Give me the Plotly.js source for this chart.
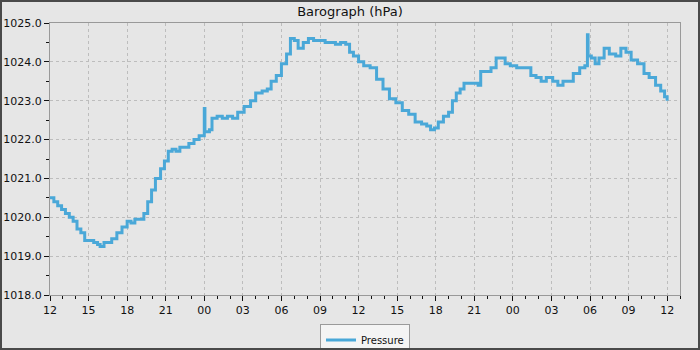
<!DOCTYPE html>
<html>
<head>
<meta charset="utf-8">
<script src="https://cdn.plot.ly/plotly-3.0.1.min.js"></script>
<style>
html,body{margin:0;padding:0;background:#e6e6e6;}
#chart{width:696px;height:346px;border:2px solid #4a4a4a;}
</style>
</head>
<body>
<div id="chart"></div>
<script>
// hours since 12:00 on day 1
const hours = [0.0,0.3,0.6,0.9,1.2,1.5,1.8,2.1,2.4,2.7,3.0,3.4,3.7,3.9,4.2,4.5,4.8,5.2,5.6,6.0,6.3,6.6,7.0,7.3,7.6,7.9,8.2,8.6,8.9,9.2,9.5,9.8,10.1,10.4,10.8,11.2,11.6,11.9,12.0,12.05,12.4,12.6,13.0,13.4,13.8,14.2,14.6,15.1,15.6,16.0,16.5,16.9,17.2,17.6,18.0,18.4,18.7,19.0,19.3,19.7,20.1,20.5,21.0,21.4,21.8,22.2,22.6,23.0,23.3,23.6,24.0,24.4,24.9,25.4,25.9,26.4,26.9,27.4,27.9,28.4,28.9,29.3,29.6,29.9,30.2,30.6,31.0,31.3,31.6,31.9,32.2,32.6,33.0,33.3,33.5,33.9,34.3,34.7,35.1,35.4,35.8,36.3,36.8,37.2,37.4,37.8,38.2,38.6,39.1,39.5,39.9,40.3,40.7,41.2,41.6,41.8,41.85,42.1,42.4,42.7,43.1,43.5,44.0,44.4,44.8,45.2,45.7,46.2,46.6,47.1,47.5,47.8,48.0];
const pressure = [1020.5,1020.4,1020.3,1020.2,1020.1,1020.0,1019.9,1019.7,1019.6,1019.4,1019.4,1019.35,1019.3,1019.25,1019.35,1019.35,1019.45,1019.6,1019.75,1019.9,1019.85,1019.95,1019.95,1020.1,1020.4,1020.7,1021.0,1021.25,1021.45,1021.7,1021.75,1021.7,1021.8,1021.8,1021.9,1022.0,1022.1,1022.1,1022.8,1022.2,1022.25,1022.55,1022.6,1022.55,1022.6,1022.55,1022.7,1022.85,1023.0,1023.2,1023.25,1023.3,1023.5,1023.65,1023.95,1024.2,1024.6,1024.55,1024.35,1024.5,1024.6,1024.55,1024.55,1024.5,1024.5,1024.45,1024.5,1024.45,1024.25,1024.15,1024.0,1023.9,1023.85,1023.55,1023.3,1023.05,1022.95,1022.75,1022.65,1022.45,1022.4,1022.35,1022.25,1022.3,1022.45,1022.6,1022.7,1023.0,1023.2,1023.3,1023.45,1023.45,1023.45,1023.4,1023.75,1023.75,1023.85,1024.1,1024.1,1023.95,1023.9,1023.85,1023.85,1023.85,1023.65,1023.6,1023.5,1023.6,1023.5,1023.4,1023.5,1023.5,1023.7,1023.85,1023.9,1024.7,1024.15,1024.1,1023.95,1024.1,1024.35,1024.2,1024.15,1024.35,1024.25,1024.05,1023.95,1023.7,1023.6,1023.4,1023.25,1023.1,1023.0];
const tickHours = [0,3,6,9,12,15,18,21,24,27,30,33,36,39,42,45,48];
const tickLabels = ['12','15','18','21','00','03','06','09','12','15','18','21','00','03','06','09','12'];
const yTicks = [1018,1019,1020,1021,1022,1023,1024,1025];

const trace = {
  x: hours, y: pressure, type: 'scatter', mode: 'lines', name: 'Pressure',
  line: {color: '#4aa8d8', width: 3, shape: 'hv'}
};
const layout = {
  width: 696, height: 346,
  margin: {l: 48, r: 18, t: 21, b: 53, autoexpand: false},
  paper_bgcolor: '#e6e6e6', plot_bgcolor: '#e6e6e6',
  font: {family: 'DejaVu Sans', size: 11, color: '#111'},
  title: {text: 'Barograph (hPa)', font: {family: 'DejaVu Sans', size: 13, color: '#111'}, x: 0.5, xanchor: 'center', y: 0.985, yanchor: 'top'},
  showlegend: true,
  legend: {orientation: 'h', x: 0.5, xanchor: 'center', y: -0.108, yanchor: 'top',
    bgcolor: '#f4f4f4', bordercolor: '#9a9a9a', borderwidth: 1, font: {size: 10}, itemwidth: 30,
    tracegroupgap: 0},
  xaxis: {
    range: [0, 49], tickmode: 'array', tickvals: tickHours, ticktext: tickLabels,
    showline: true, linecolor: '#999', linewidth: 1, mirror: true,
    ticks: 'outside', ticklen: 5, tickcolor: '#111',
    showgrid: true, gridcolor: '#bdbdbd', griddash: '3px,3px', gridwidth: 1,
    zeroline: false,
    minor: {dtick: 1, tick0: 0, ticks: 'outside', ticklen: 3, tickcolor: '#111', showgrid: false}
  },
  yaxis: {
    range: [1018, 1025], tickmode: 'array', tickvals: yTicks, tickformat: '.1f',
    showline: true, linecolor: '#999', linewidth: 1, mirror: true,
    ticks: 'outside', ticklen: 5, tickcolor: '#111',
    showgrid: true, gridcolor: '#bdbdbd', griddash: '3px,3px', gridwidth: 1,
    zeroline: false,
    minor: {dtick: 0.5, tick0: 1018, ticks: 'outside', ticklen: 3, tickcolor: '#111', showgrid: false}
  }
};
Plotly.newPlot('chart', [trace], layout, {displayModeBar: false, staticPlot: true});
</script>
</body>
</html>
